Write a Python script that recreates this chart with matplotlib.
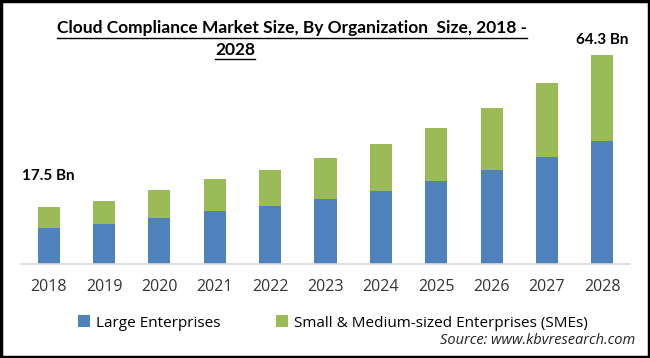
import matplotlib.pyplot as plt
from matplotlib.lines import Line2D
from matplotlib.patches import Rectangle

years = ["2018", "2019", "2020", "2021", "2022", "2023", "2024", "2025", "2026", "2027", "2028"]
large = [11.1, 12.3, 14.2, 16.3, 17.9, 20.1, 22.4, 25.5, 28.9, 32.9, 37.8]
sme = [6.4, 7.0, 8.5, 9.8, 11.0, 12.5, 14.4, 16.3, 19.2, 22.7, 26.5]
first_label = "17.5 Bn"
last_label = "64.3 Bn"

BLUE = "#4F81BD"
GREEN = "#9BBB59"
FONT = "Open Sans"
BOLD_FONT = "Lato"

W, H = 650, 358
fig = plt.figure(figsize=(W / 100, H / 100), dpi=100)
ax = fig.add_axes([21 / W, 1 - 264 / H, (630 - 21) / W, (264 - 36.5) / H])

x = list(range(len(years)))
ax.bar(x, large, width=0.4, color=BLUE, label="Large Enterprises")
ax.bar(x, sme, width=0.4, bottom=large, color=GREEN,
       label="Small & Medium-sized Enterprises (SMEs)")
ax.set_xlim(-0.5, 10.5)
ax.set_ylim(0, 70)
ax.set_yticks([])
for s in ["top", "right", "left"]:
    ax.spines[s].set_visible(False)
ax.spines["bottom"].set_color("#d9d9d9")
ax.spines["bottom"].set_linewidth(1.2)
ax.set_xticks(x)
ax.set_xticklabels(years, fontsize=11.5, family=FONT, color="#333333")
ax.tick_params(axis="x", length=0, pad=11)

ax.text(-0.48, large[0] + sme[0] + 9.5, first_label, fontsize=11, fontweight="bold",
        family=BOLD_FONT, ha="left", va="center")
ax.text(10, large[-1] + sme[-1] + 4.6, last_label, fontsize=11, fontweight="bold",
        family=BOLD_FONT, ha="center", va="center")

# title with underline
t1 = fig.text(292 / W, 1 - 28 / H, "Cloud Compliance Market Size, By Organization  Size, 2018 -",
              fontsize=12.5, fontweight="bold", family=BOLD_FONT, ha="center", va="center")
t2 = fig.text(235 / W, 1 - 50 / H, "2028", fontsize=12.5, fontweight="bold",
              family=BOLD_FONT, ha="center", va="center")
renderer = fig.canvas.get_renderer()
for t, uy in [(t1, 38), (t2, 59)]:
    bb = t.get_window_extent(renderer)
    fig.add_artist(Line2D([bb.x0 / W, bb.x1 / W], [1 - uy / H, 1 - uy / H],
                          color="black", linewidth=1.0, transform=fig.transFigure))

ax.legend(loc="center", bbox_to_anchor=(333 / W, 1 - 323 / H), bbox_transform=fig.transFigure,
          ncol=2, frameon=False, prop={"family": FONT, "size": 11},
          handlelength=0.8, handleheight=0.8, handletextpad=0.4, columnspacing=3.6)

fig.text(635 / W, 1 - 341 / H, "Source: www.kbvresearch.com", fontsize=10.5, style="italic",
         family=FONT, ha="right", va="center", color="#222222")

fig.add_artist(Rectangle((0.002, 0.003), 0.996, 0.994, transform=fig.transFigure,
                         fill=False, edgecolor="black", linewidth=2.5))

fig.savefig("out.png", dpi=100)
